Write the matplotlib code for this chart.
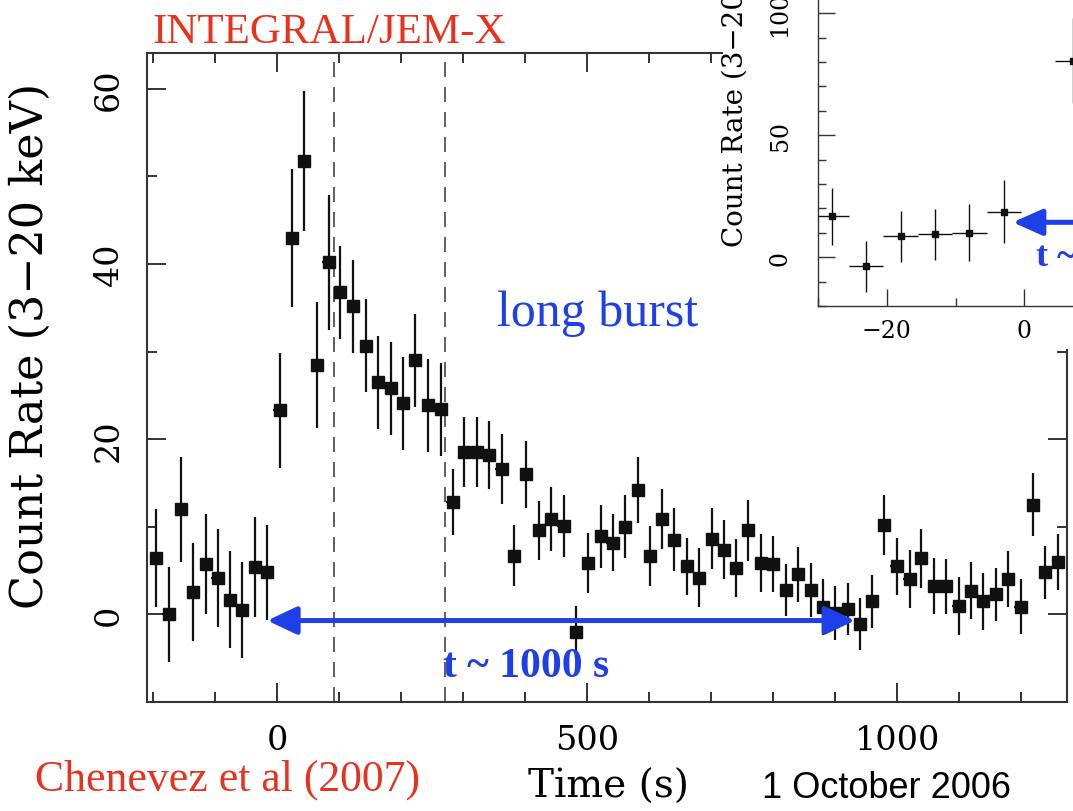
import matplotlib
matplotlib.use("Agg")
import matplotlib.pyplot as plt
from matplotlib.ticker import MultipleLocator
from matplotlib.patches import Rectangle

# ---------------- data ----------------
main_t = [-195, -175, -155, -135, -115, -96, -76, -56, -36, -16,
          4, 24, 44, 64, 83, 102, 123, 143, 163, 183, 203, 223, 244, 264,
          283, 302, 322, 342, 362, 382, 402, 422, 442, 462, 482, 502, 522, 541,
          561, 582, 602, 621,
          640, 661, 681, 701, 721, 740, 760, 781, 800, 821, 840, 861, 880, 900,
          920, 940, 960,
          979, 999, 1020, 1039, 1059, 1079, 1099, 1119, 1139, 1159, 1179, 1199,
          1219, 1239, 1259]
main_rate = [6.4, 0.0, 12.0, 2.6, 5.8, 4.2, 1.7, 0.5, 5.4, 4.8,
             23.3, 43.0, 51.8, 28.5, 40.2, 36.8, 35.2, 30.7, 26.5, 25.8, 24.1, 29.0, 23.9, 23.4,
             12.8, 18.5, 18.5, 18.2, 16.6, 6.7, 16.0, 9.6, 10.9, 10.1, -2.0, 5.9, 8.9, 8.2,
             10.0, 14.2, 6.7, 10.9,
             8.5, 5.5, 4.2, 8.65, 7.4, 5.3, 9.6, 5.9, 5.8, 2.8, 4.6, 2.8, 0.9, 0.2,
             0.65, -1.1, 1.5,
             10.2, 5.5, 4.0, 6.4, 3.2, 3.2, 0.95, 2.7, 1.5, 2.3, 4.0, 0.9,
             12.5, 4.8, 6.0]
main_err = [5.6, 5.4, 6.0, 5.6, 5.7, 5.6, 5.5, 5.5, 5.7, 5.4,
            6.6, 7.9, 8.0, 7.2, 7.7, 5.3, 5.3, 5.3, 5.3, 5.3, 5.3, 5.3, 5.3, 5.3,
            3.75, 4.0, 4.0, 3.9, 3.95, 3.5, 3.8, 3.4, 3.7, 3.55, 3.0, 3.4, 3.6, 3.3,
            3.6, 3.75, 3.4, 3.4,
            3.6, 3.25, 3.4, 3.45, 3.4, 3.3, 3.5, 3.3, 3.2, 3.0, 3.15, 3.05, 3.2, 3.1,
            2.95, 2.95, 3.0,
            3.45, 3.25, 3.3, 3.35, 3.2, 3.15, 3.3, 3.25, 3.25, 3.05, 3.2, 3.15,
            3.6, 3.05, 3.2]
main_half_bin = 10

dashed_t = [92, 271]
arrow_span = [-16, 932]
arrow_level = -0.7

inset_t = [-28, -23, -18, -13, -8, -3, 7]
inset_rate = [16.7, -3.8, 8.5, 9.4, 10.1, 18.7, 80.6]
inset_err = [11.5, 10.5, 10.5, 10.4, 11.6, 12.8, 17.5]
inset_half_bin = 2.5

RED = "#e8321e"
BLUE = "#1f3fe8"
AXC = "#333333"

# ---------------- figure ----------------
W, H = 1073, 812
fig = plt.figure(figsize=(W / 100, H / 100), dpi=100)


def fx(px):
    return px / W


def fy(py):
    return 1 - py / H


SERIF = ["DejaVu Serif"]

ax = fig.add_axes([fx(147), fy(703), fx(1067) - fx(147), fy(54) - fy(703)])
ax.set_zorder(0)
ax.set_xlim(-210, 1274)
ax.set_ylim(-10, 64.1)

ax.errorbar(main_t, main_rate, yerr=main_err, xerr=main_half_bin, fmt="s",
            ms=8, color="#111111", ecolor="#111111", elinewidth=1.6,
            capsize=0, zorder=3)

for t in dashed_t:
    ax.axvline(t, color="#444444", lw=1.2, ls=(0, (9, 6)), zorder=2)

ax.annotate("", xy=(arrow_span[0], arrow_level), xytext=(arrow_span[1], arrow_level),
            arrowprops=dict(arrowstyle="<|-|>,head_length=18,head_width=8.5",
                            mutation_scale=1, color=BLUE, lw=3.6,
                            shrinkA=0, shrinkB=0), zorder=4)

ax.text(516, 33.1, "long burst", color=BLUE, fontsize=36,
        family="Liberation Serif", ha="center", va="baseline")
ax.text(401, -7.05, "t ~ 1000 s", color=BLUE, fontsize=30, fontweight="bold",
        family="Liberation Serif", ha="center", va="baseline", zorder=5)

ax.xaxis.set_major_locator(MultipleLocator(500))
ax.xaxis.set_minor_locator(MultipleLocator(100))
ax.yaxis.set_major_locator(MultipleLocator(20))
ax.yaxis.set_minor_locator(MultipleLocator(10))
ax.tick_params(which="both", direction="in", top=True, right=True, color=AXC,
               width=1.4)
ax.tick_params(which="major", length=14)
ax.tick_params(which="minor", length=7)
ax.tick_params(axis="x", pad=16, labelsize=24)
ax.tick_params(axis="y", pad=16, labelsize=24)
for lab in ax.get_xticklabels():
    lab.set_family(SERIF)
for lab in ax.get_yticklabels():
    lab.set_family(SERIF)
    lab.set_rotation(90)
    lab.set_va("center")
for s in ax.spines.values():
    s.set_color(AXC)
    s.set_linewidth(1.5)

ax.set_xlabel("Time (s)", fontsize=28, family=SERIF)
ax.xaxis.label.set_va("center")
ax.xaxis.set_label_coords((609 - 147) / 920, (703 - 787) / 649)
ax.set_ylabel("Count Rate (3\u221220 keV)", fontsize=32, family=SERIF)
ax.yaxis.set_label_coords((52 - 147) / 920, (703 - 346) / 649)

# ---------------- inset (pasted panel) ----------------
fig.add_artist(Rectangle((fx(723), fy(350)), fx(1073) - fx(723), fy(0) - fy(350),
                         transform=fig.transFigure, facecolor="white",
                         edgecolor="none", zorder=1))

ax_in = fig.add_axes([fx(818), fy(307), 481.6 / W, 414.8 / H])
ax_in.set_zorder(2)
ax_in.set_xlim(-30, 40)
ax_in.set_ylim(-20, 150)
ax_in.errorbar(inset_t, inset_rate, yerr=inset_err, xerr=inset_half_bin, fmt="s",
               ms=5, color="#111111", ecolor="#111111", elinewidth=1.0, capsize=0,
               zorder=3)
ax_in.annotate("", xy=(-1.7, 14.3), xytext=(30, 14.3),
               arrowprops=dict(arrowstyle="-|>,head_length=18,head_width=8",
                               mutation_scale=1, color=BLUE, lw=3.6,
                               shrinkA=0, shrinkB=0), zorder=4)
ax_in.text(1.7, -3.3, "t ~ 1000 s", color=BLUE, fontsize=26, fontweight="bold",
           family="Liberation Serif", ha="left", va="baseline", zorder=5)
ax_in.xaxis.set_major_locator(MultipleLocator(20))
ax_in.xaxis.set_minor_locator(MultipleLocator(10))
ax_in.yaxis.set_major_locator(MultipleLocator(50))
ax_in.yaxis.set_minor_locator(MultipleLocator(10))
ax_in.tick_params(which="both", direction="in", top=True, right=True, color=AXC,
                  width=1.0)
ax_in.tick_params(which="major", length=12)
ax_in.tick_params(which="minor", length=6)
ax_in.tick_params(axis="x", pad=9, labelsize=17)
ax_in.tick_params(axis="y", pad=19, labelsize=17)
for lab in ax_in.get_xticklabels():
    lab.set_family(SERIF)
for lab in ax_in.get_yticklabels():
    lab.set_family(SERIF)
    lab.set_rotation(90)
    lab.set_va("center")
for s in ax_in.spines.values():
    s.set_color(AXC)
    s.set_linewidth(1.0)
ax_in.set_ylabel("Count Rate (3\u221220 keV)", fontsize=20, family=SERIF)
ax_in.yaxis.set_label_coords((749 - 818) / 481.6, 0.54)

# ---------------- free texts ----------------
fig.text(fx(152), fy(43), "INTEGRAL/JEM-X", color=RED, fontsize=31,
         family="Liberation Serif", ha="left", va="baseline")
fig.text(fx(35), fy(791), "Chenevez et al (2007)", color=RED, fontsize=31.5,
         family="Liberation Serif", ha="left", va="baseline")
fig.text(fx(762), fy(798), "1 October 2006", color="black", fontsize=26,
         family="Liberation Sans", ha="left", va="baseline")

fig.savefig("out.png", dpi=100)
